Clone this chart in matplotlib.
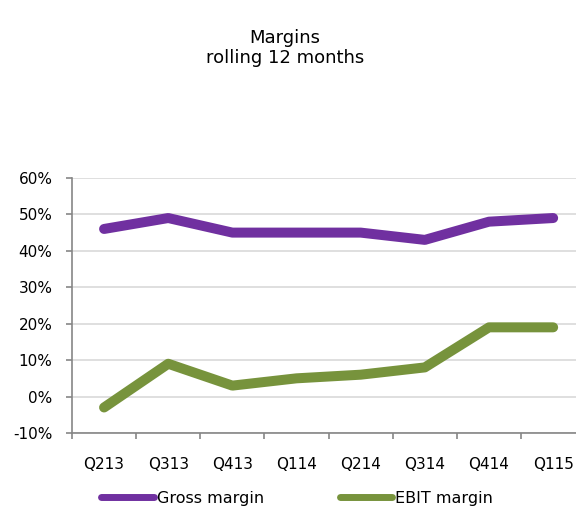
import matplotlib
matplotlib.use("Agg")
import matplotlib.pyplot as plt
from matplotlib.ticker import FixedLocator, PercentFormatter

quarters = ["Q213", "Q313", "Q413", "Q114", "Q214", "Q314", "Q414", "Q115"]
gross_margin = [46, 49, 45, 45, 45, 43, 48, 49]
ebit_margin = [-3, 9, 3, 5, 6, 8, 19, 19]

purple = "#7030A0"
green = "#77933C"
axis_gray = "#868686"
grid_gray = "#D9D9D9"

plt.rcParams["font.family"] = ["DejaVu Sans"]
plt.rcParams["axes.unicode_minus"] = False

fig = plt.figure(figsize=(5.76, 5.07), dpi=100)
ax = fig.add_axes([0.125, 0.146, 0.891, 0.503])

x = list(range(len(quarters)))
ax.plot(x, gross_margin, color=purple, lw=7.2, solid_capstyle="round", solid_joinstyle="round", label="Gross margin")
ax.plot(x, ebit_margin, color=green, lw=7.2, solid_capstyle="round", solid_joinstyle="round", label="EBIT margin")

ax.set_xlim(-0.5, len(quarters) - 0.5)
ax.set_ylim(-10, 60)
ax.set_yticks(range(-10, 61, 10))
ax.yaxis.set_major_formatter(PercentFormatter(decimals=0))
ax.set_xticks(x)
ax.set_xticklabels(quarters)
ax.xaxis.set_minor_locator(FixedLocator([i - 0.5 for i in range(len(quarters) + 1)]))

ax.grid(axis="y", color=grid_gray, lw=1.2)
ax.set_axisbelow(True)
for s in ["top", "right"]:
    ax.spines[s].set_visible(False)
for s in ["left", "bottom"]:
    ax.spines[s].set_color(axis_gray)
    ax.spines[s].set_linewidth(1.2)

ax.tick_params(axis="y", length=4, color=axis_gray, width=1.2, pad=10, labelsize=11, labelcolor="black")
ax.tick_params(axis="x", which="major", length=0, pad=17, labelsize=11)
ax.tick_params(axis="x", which="minor", length=4, color=axis_gray, width=1.2)

fig.text(0.495, 0.905, "Margins\nrolling 12 months", ha="center", va="center", fontsize=13, linespacing=1.15)

leg = ax.legend(loc="center left", bbox_to_anchor=(0.045, -0.255), ncol=2, frameon=False,
                fontsize=11.5, handlelength=3.3, handletextpad=0.2, columnspacing=4.7,
                borderaxespad=0)
for line in leg.get_lines():
    line.set_linewidth(5)

fig.savefig("out.png", dpi=100)
